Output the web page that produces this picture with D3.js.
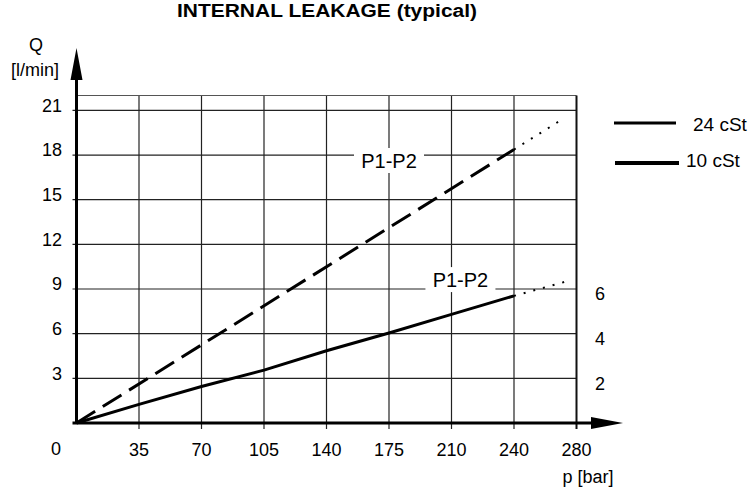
<!DOCTYPE html>
<html>
<head>
<meta charset="utf-8">
<script src="https://cdn.jsdelivr.net/npm/d3@7"></script>
<style>
    body { margin: 0; background: #fff; }
    text { font-family: "Liberation Sans", Arial, sans-serif; fill: #000; }
</style>
</head>
<body>
<svg id="chart" width="750" height="490"></svg>
<script>
// pressure grid (the last-but-one label reads 240 in the original drawing)
const pressureTicks = [35, 70, 105, 140, 175, 210, 245, 280];
const pressureLabels = ['35', '70', '105', '140', '175', '210', '240', '280'];
const flowTicks = [3, 6, 9, 12, 15, 18, 21];
const rightLabels = [2, 4, 6];        // sits on flow lines 3, 6, 9
const rightLabelFlow = [3, 6, 9];

// curves: [pressure, flow]
const upperCurve = [[0, 0], [245, 18.37]];
const upperExtension = [[245, 18.37], [272, 20.4]];
const lowerCurve = [[0, 0], [35, 1.25], [70, 2.45], [105, 3.55], [140, 4.85], [175, 6.05], [210, 7.3], [245, 8.54]];
const lowerExtension = [[245, 8.54], [275, 9.53]];

const legendNames = ['24 cSt', '10 cSt'];

const svg = d3.select('#chart');
const x = d3.scaleLinear().domain([0, 280]).range([76.5, 576.5]);
const y = d3.scaleLinear().domain([0, 22]).range([423, 95.5]);

const font = 18;

// title
svg.append('text')
    .attr('x', 327).attr('y', 17)
    .attr('text-anchor', 'middle')
    .attr('textLength', 300).attr('lengthAdjust', 'spacingAndGlyphs')
    .style('font-size', '18px').style('font-weight', 'bold')
    .text('INTERNAL LEAKAGE (typical)');

// grid
const grid = svg.append('g').attr('stroke', '#222').attr('stroke-width', 1.2);
grid.selectAll('line.v')
    .data(pressureTicks.slice(0, -1))
    .enter().append('line')
    .attr('x1', d => x(d)).attr('x2', d => x(d))
    .attr('y1', y(22)).attr('y2', y(0) + 6);
grid.selectAll('line.h')
    .data(flowTicks)
    .enter().append('line')
    .attr('x1', x(0) - 4).attr('x2', x(280))
    .attr('y1', d => y(d)).attr('y2', d => y(d));
grid.append('line')
    .attr('x1', x(0)).attr('x2', x(280))
    .attr('y1', y(22)).attr('y2', y(22))
    .attr('stroke', '#555');
// right frame
svg.append('line')
    .attr('x1', x(280)).attr('x2', x(280))
    .attr('y1', y(22)).attr('y2', y(0) + 6)
    .attr('stroke', '#111').attr('stroke-width', 2);

// white boxes behind curve labels
const labels = [
    { text: 'P1-P2', p: 175, q: 17.6 },
    { text: 'P1-P2', p: 215, q: 9.6 }
];
svg.selectAll('rect.lbl')
    .data(labels)
    .enter().append('rect')
    .attr('x', d => x(d.p) - 35).attr('y', d => y(d.q) - 13)
    .attr('width', 70).attr('height', 25)
    .attr('fill', '#fff');
svg.selectAll('text.lbl')
    .data(labels)
    .enter().append('text')
    .attr('x', d => x(d.p)).attr('y', d => y(d.q))
    .attr('dy', '0.35em')
    .attr('text-anchor', 'middle')
    .style('font-size', '20px')
    .text(d => d.text);

// curves
const line = d3.line().x(d => x(d[0])).y(d => y(d[1]));
svg.append('path').datum(upperCurve)
    .attr('d', line).attr('fill', 'none')
    .attr('stroke', '#000').attr('stroke-width', 3)
    .attr('stroke-dasharray', '22,9');
svg.append('path').datum(lowerCurve)
    .attr('d', line).attr('fill', 'none')
    .attr('stroke', '#000').attr('stroke-width', 3);
svg.selectAll('path.ext')
    .data([upperExtension, lowerExtension])
    .enter().append('path')
    .attr('d', line).attr('fill', 'none')
    .attr('stroke', '#000').attr('stroke-width', 2)
    .attr('stroke-dasharray', '2,8');

// axes lines with arrows
svg.append('line')
    .attr('x1', x(0)).attr('x2', x(0))
    .attr('y1', y(0)).attr('y2', 75)
    .attr('stroke', '#000').attr('stroke-width', 3);
svg.append('path')
    .attr('d', `M${x(0)},48 L${x(0) - 6},80 L${x(0) + 6},80 Z`)
    .attr('fill', '#000');
svg.append('line')
    .attr('x1', x(0) - 4).attr('x2', 596)
    .attr('y1', y(0)).attr('y2', y(0))
    .attr('stroke', '#000').attr('stroke-width', 3);
svg.append('path')
    .attr('d', `M623,${y(0)} L591,${y(0) - 6} L591,${y(0) + 6} Z`)
    .attr('fill', '#000');

// y tick labels
svg.selectAll('text.ytick')
    .data(flowTicks)
    .enter().append('text')
    .attr('x', 62).attr('y', d => y(d) - 5)
    .attr('dy', '0.35em')
    .attr('text-anchor', 'end')
    .style('font-size', font + 'px')
    .text(d => d);

// x tick labels
svg.selectAll('text.xtick')
    .data(pressureTicks)
    .enter().append('text')
    .attr('x', d => x(d)).attr('y', 450)
    .attr('dy', '0.35em')
    .attr('text-anchor', 'middle')
    .style('font-size', font + 'px')
    .text((d, i) => pressureLabels[i]);
svg.append('text')
    .attr('x', 56).attr('y', 449).attr('dy', '0.35em')
    .attr('text-anchor', 'middle')
    .style('font-size', font + 'px').text('0');

// right-hand labels
svg.selectAll('text.rtick')
    .data(rightLabels)
    .enter().append('text')
    .attr('x', 600).attr('y', (d, i) => y(rightLabelFlow[i]) + 5)
    .attr('dy', '0.35em')
    .attr('text-anchor', 'middle')
    .style('font-size', font + 'px')
    .text(d => d);

// axis titles
svg.append('text').attr('x', 36).attr('y', 45).attr('dy', '0.35em')
    .attr('text-anchor', 'middle').style('font-size', font + 'px').text('Q');
svg.append('text').attr('x', 35).attr('y', 70).attr('dy', '0.35em')
    .attr('text-anchor', 'middle').style('font-size', font + 'px').text('[l/min]');
svg.append('text').attr('x', 588).attr('y', 477).attr('dy', '0.35em')
    .attr('text-anchor', 'middle').style('font-size', font + 'px').text('p [bar]');

// legend
const legend = [
    { name: legendNames[0], x1: 614, x2: 676, y: 123, w: 3, tx: 693, ty: 124.5 },
    { name: legendNames[1], x1: 615, x2: 679, y: 163, w: 4, tx: 686, ty: 160 }
];
svg.selectAll('line.leg')
    .data(legend)
    .enter().append('line')
    .attr('x1', d => d.x1).attr('x2', d => d.x2)
    .attr('y1', d => d.y).attr('y2', d => d.y)
    .attr('stroke', '#000').attr('stroke-width', d => d.w);
svg.selectAll('text.leg')
    .data(legend)
    .enter().append('text')
    .attr('x', d => d.tx).attr('y', d => d.ty)
    .attr('dy', '0.35em')
    .style('font-size', '19px')
    .text(d => d.name);
</script>
</body>
</html>
